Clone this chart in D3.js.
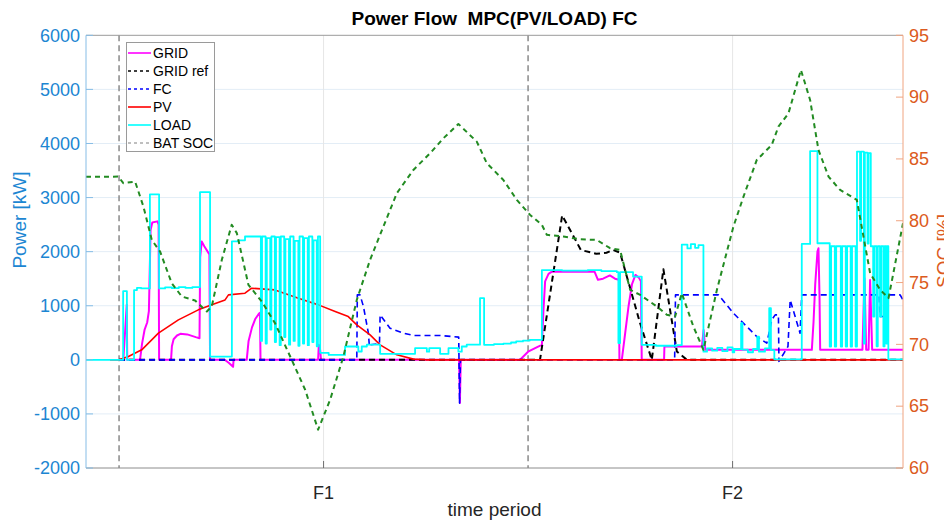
<!DOCTYPE html>
<html><head><meta charset="utf-8">
<script src="https://cdn.jsdelivr.net/npm/d3@7"></script>
<style>
body{margin:0;background:#fff}
svg{display:block}
text{font-family:"Liberation Sans",Arial,Helvetica,sans-serif}
</style>
</head><body>
<svg id="chart" width="944" height="521"></svg>
<script>
// ---------------- data (time in hours, power in kW, SOC in %) ----------------
const powerTicks = [-2000,-1000,0,1000,2000,3000,4000,5000,6000];
const socTicks = [60,65,70,75,80,85,90,95];
const periodLabels = ["F1","F2"];
const periodTimes = [12,36];
const dayBounds = [0,24];
const seriesNames = ["GRID","GRID ref","FC","PV","LOAD","BAT SOC"];

const gridPower = [[0,0],[0.25,0],[0.35,500],[0.45,1020],[0.48,0],[1.23,0],[1.35,300],[1.5,560],[1.65,690],[1.75,900],[1.85,2400],[1.95,2540],[2.25,2560],[2.32,2500],[2.35,0],
 [3.05,0],[3.1,250],[3.2,380],[3.4,450],[3.6,480],[4.0,470],[4.5,420],[4.72,400],[4.76,1900],[4.85,2186],[5.0,2100],[5.3,1950],[5.34,0],
 [6.2,0],[6.45,-60],[6.69,-130],[6.72,0],[7.49,0],[7.6,350],[7.8,600],[8.0,760],[8.2,850],[8.27,870],[8.3,0],[11.68,0],[11.72,280],[11.8,180],[11.85,0],
 [19.95,0],[20.0,-800],[20.05,0],[23.53,0],[24.0,150],[24.5,230],[24.81,277],[24.9,900],[25.0,1450],[25.2,1590],[25.4,1630],[27.9,1630],[28.1,1480],[28.4,1500],[28.8,1560],[29.1,1500],[29.33,1480],[29.36,0],
 [29.5,0],[29.7,500],[29.9,1000],[30.1,1400],[30.3,1570],[30.5,1520],[30.62,1450],[30.67,0],[31.98,0],[32.0,246],[34.2,246],[34.3,550],[34.4,185],
 [40.65,185],[40.75,700],[40.85,1400],[40.98,2000],[41.04,2063],[41.1,1200],[41.14,185],[43.62,185],[43.74,1510],[43.84,185],[43.98,185],[44.07,1478],[44.19,185],[46,185]];

const gridRef = [[0,0],[24.7,0],[26.0,2670],[27.1,2030],[28.0,1960],[28.6,1980],[29.0,2030],[29.4,1980],[30.57,680],[31.26,0],[31.94,1676],[32.73,154],[33.32,0],[46,0]];

const fcPower = [[0,0],[13.95,0],[13.98,1200],[14.14,1200],[14.34,985],[14.63,493],[14.69,246],[14.75,277],[15.28,300],[15.32,831],[15.9,585],[16.68,493],[17.27,450],[18.84,450],[19.93,419],[19.98,-800],[20.03,0],
 [32.6,0],[32.65,1200],[35.17,1200],[36.05,862],[37.42,430],[38.01,308],[38.3,739],[38.5,831],[38.69,831],[38.72,-30],[39.25,246],[39.38,1108],[39.96,493],[40.06,1200],[44.6,1200],[44.65,800],[44.9,800],[44.95,1200],[45.83,1200],[46.0,1108]];

const pvPower = [[-0.53,0],[0.0,0],[0.55,61],[1.33,185],[2.31,493],[3.48,739],[4.65,924],[5.44,1016],[6.22,1108],[6.42,1200],[7.39,1232],[7.78,1324],[9.15,1293],[10.52,1140],[11.7,1016],[12.68,893],[13.45,800],[13.95,647],[14.73,462],[15.32,277],[16.3,92],[17.27,13],[18.0,0],[46,0]];

// step-after samples
const loadPower = [[-1.94,0],[0.24,1270],[0.46,0],[0.88,1290],[1.05,1330],[1.3,1320],[1.81,3060],[2.35,1320],[2.7,1340],[3.1,1325],[3.5,1345],[3.9,1330],[4.3,1345],[4.75,3100],[5.34,60],[6.62,2190],[7.0,2210],[7.39,2280],
 [8.32,350],[8.39,2280],[8.6,300],[8.67,2250],[8.87,560],[8.94,2280],[9.14,330],[9.21,2270],[9.42,270],[9.49,2280],[9.69,420],[9.76,2230],[9.97,280],[10.04,2280],[10.24,350],[10.31,2200],[10.52,260],[10.59,2280],[10.79,300],[10.86,2250],[11.07,270],[11.14,2280],[11.34,330],[11.41,2210],[11.6,250],[11.67,2280],[11.80,130],
 [12.3,90],[13.26,246],[14.04,154],[14.24,246],[14.54,280],[15.32,111],[17.37,216],[18.06,150],[18.2,216],[18.84,111],[19.33,216],[19.91,150],[20.11,246],[20.4,280],[21.18,1140],[21.42,277],[22.0,290],[22.55,300],[23.0,320],[23.3,340],[23.7,355],[24.1,370],
 [24.81,1660],[26.0,1650],[27.5,1660],[28.3,1640],[29.21,1620],[29.3,310],[29.4,1620],[30.16,1540],[30.67,277],[31.5,260],[32.73,270],[33.02,2130],[33.35,2060],[33.55,2140],[33.8,2070],[34.0,2120],
 [34.29,150],[34.5,210],[34.8,170],[35.1,220],[35.4,160],[35.7,230],[36.0,140],[36.1,200],[36.5,680],[36.58,190],[36.9,140],[37.2,200],[37.45,430],[37.55,150],[37.9,210],[38.15,955],[38.25,180],[38.45,10],
 [40.06,2143],[40.55,3860],[40.98,2155],[41.70,246],[41.78,2100],[42.0,246],[42.08,2100],[42.35,246],[42.43,2100],[42.64,246],[42.72,2100],[42.93,246],[43.01,2100],[43.22,246],[43.3,3850],
 [43.48,2200],[43.54,3850],[43.7,300],[43.76,3830],[43.92,2150],[43.98,3820],[44.11,2100],[44.25,800],[44.32,2100],[44.45,250],[44.52,2100],[44.65,800],[44.72,2100],[44.85,250],[44.92,2100],[45.02,300],[45.07,2100],[45.14,10],[46,10]];

const batSoc = [[-1.94,83.55],[-0.04,83.57],[0.25,83.04],[0.94,83.17],[1.43,81.15],[1.92,78.45],[2.41,77.5],[3.09,74.95],[3.68,73.87],[4.46,73.55],[5.15,72.66],[5.44,73.06],[6.03,76.84],[6.61,79.67],[6.91,79.0],[7.59,74.82],[8.37,73.47],[9.15,71.72],[10.13,68.75],[10.92,66.33],[11.68,63.1],[12.38,65.5],[13.16,69.0],[13.95,73.6],[14.73,76.84],[15.51,79.53],[16.3,82.23],[17.27,84.11],[18.25,85.46],[19.03,86.67],[19.91,87.83],[20.99,86.4],[21.58,84.65],[22.55,83.3],[23.34,81.69],[24.12,80.47],[24.81,79.67],[25.1,78.86],[26.07,78.72],[27.05,78.5],[28.03,78.45],[28.81,77.78],[29.4,77.64],[29.99,74.41],[30.58,74.0],[31.56,73.06],[32.14,72.4],[32.63,72.25],[33.02,74.14],[33.7,71.44],[34.29,69.56],[35.08,74.41],[36.05,79.53],[36.64,81.95],[37.42,84.92],[38.3,86.13],[38.69,87.61],[39.28,88.69],[40.01,92.2],[40.55,89.77],[41.04,85.73],[41.63,83.57],[42.31,82.49],[43.29,81.69],[44.07,75.76],[44.66,74.41],[45.15,73.74],[46.0,79.8]];

// ---------------- drawing ----------------
const leftColor = "#1c86d2", rightColor = "#dc5a20";
const M = {l:86, r:903, t:35.3, b:468};
const svg = d3.select("#chart");
const x = d3.scaleLinear().domain([-1.94,46]).range([M.l,M.r]);
const yL = d3.scaleLinear().domain([-2000,6000]).range([M.b,M.t]);
const yR = d3.scaleLinear().domain([60,95]).range([M.b,M.t]);

svg.append("defs").append("clipPath").attr("id","clip")
  .append("rect").attr("x",M.l).attr("y",M.t).attr("width",M.r-M.l).attr("height",M.b-M.t);

// grid
svg.append("g").selectAll("line").data(powerTicks.slice(1,-1)).join("line")
  .attr("x1",M.l).attr("x2",M.r).attr("y1",d=>yL(d)).attr("y2",d=>yL(d))
  .attr("stroke","#e3edf6").attr("stroke-width",1);
svg.append("g").selectAll("line").data(periodTimes).join("line")
  .attr("x1",d=>x(d)).attr("x2",d=>x(d)).attr("y1",M.t).attr("y2",M.b)
  .attr("stroke","#e6e6e6").attr("stroke-width",1);

// day boundaries
svg.append("g").selectAll("line").data(dayBounds).join("line")
  .attr("x1",d=>x(d)).attr("x2",d=>x(d)).attr("y1",M.t).attr("y2",M.b)
  .attr("stroke","#8a8a8a").attr("stroke-width",1.5).attr("stroke-dasharray","6,4");

const plot = svg.append("g").attr("clip-path","url(#clip)");
const lineL = d3.line().x(d=>x(d[0])).y(d=>yL(d[1]));
const stepL = d3.line().x(d=>x(d[0])).y(d=>yL(d[1])).curve(d3.curveStepAfter);
const lineR = d3.line().x(d=>x(d[0])).y(d=>yR(d[1]));

function draw(data, gen, color, w, dash){
  const p = plot.append("path").datum(data).attr("d",gen).attr("fill","none")
    .attr("stroke",color).attr("stroke-width",w).attr("stroke-linejoin","round");
  if(dash) p.attr("stroke-dasharray",dash);
}
draw(gridPower, lineL, "#ff00ff", 2);
draw(gridRef, lineL, "#000000", 2, "6,4");
draw(fcPower, lineL, "#0000ff", 1.6, "6,4");
draw(pvPower, lineL, "#ff0000", 1.6);
draw(loadPower, stepL, "#00ffff", 1.8);
draw(batSoc, lineR, "#228b22", 2, "5,4");

// axes frame
svg.append("line").attr("x1",M.l).attr("x2",M.r).attr("y1",M.t).attr("y2",M.t).attr("stroke","#9a9a9a");
svg.append("line").attr("x1",M.l).attr("x2",M.r).attr("y1",M.b).attr("y2",M.b).attr("stroke","#8c8c8c");
svg.append("line").attr("x1",M.l).attr("x2",M.l).attr("y1",M.t).attr("y2",M.b).attr("stroke","#86bde6");
svg.append("line").attr("x1",M.r).attr("x2",M.r).attr("y1",M.t).attr("y2",M.b).attr("stroke","#f0a480");

// left ticks + labels
const gl = svg.append("g");
gl.selectAll("line").data(powerTicks).join("line")
  .attr("x1",M.l).attr("x2",M.l+7).attr("y1",d=>yL(d)).attr("y2",d=>yL(d)).attr("stroke","#86bde6");
gl.selectAll("text").data(powerTicks).join("text")
  .attr("x",M.l-6).attr("y",d=>yL(d)).attr("dy","0.35em").attr("text-anchor","end")
  .attr("font-size",18).attr("fill",leftColor).text(d=>d);
// right ticks + labels
const gr = svg.append("g");
gr.selectAll("line").data(socTicks).join("line")
  .attr("x1",M.r-7).attr("x2",M.r).attr("y1",d=>yR(d)).attr("y2",d=>yR(d)).attr("stroke","#f0a480");
gr.selectAll("text").data(socTicks).join("text")
  .attr("x",M.r+6).attr("y",d=>yR(d)).attr("dy","0.35em").attr("text-anchor","start")
  .attr("font-size",18).attr("fill",rightColor).text(d=>d);
// x ticks
const gx = svg.append("g");
gx.selectAll("line").data(periodTimes).join("line")
  .attr("x1",d=>x(d)).attr("x2",d=>x(d)).attr("y1",M.b).attr("y2",M.b-7).attr("stroke","#6e6e6e");
gx.selectAll("text").data(periodLabels).join("text")
  .attr("x",(d,i)=>x(periodTimes[i])).attr("y",M.b+31).attr("text-anchor","middle")
  .attr("font-size",18).attr("fill","#262626").text(d=>d);

// titles
svg.append("text").attr("x",(M.l+M.r)/2).attr("y",25).attr("text-anchor","middle")
  .attr("font-size",19).attr("font-weight","bold").attr("fill","#000").style("white-space","pre")
  .text("Power Flow  MPC(PV/LOAD) FC");
svg.append("text").attr("x",(M.l+M.r)/2).attr("y",516).attr("text-anchor","middle")
  .attr("font-size",19).attr("fill","#262626").text("time period");
svg.append("text").attr("transform","translate(26,220) rotate(-90)").attr("text-anchor","middle")
  .attr("font-size",19).attr("fill",leftColor).text("Power [kW]");
svg.append("text").attr("transform","translate(950,251) rotate(-90)").attr("text-anchor","middle")
  .attr("font-size",19).attr("fill",rightColor).text("SOC [%]");

// legend
const lg = svg.append("g");
lg.append("rect").attr("x",126.5).attr("y",42.5).attr("width",88).attr("height",109)
  .attr("fill","#fff").attr("stroke","#9a9a9a");
const legStyles = [["#ff00ff",null],["#000000","3,3"],["#0000ff","3,3"],["#ff0000",null],["#00ffff",null],["#808080","3,3"]];
const legRow = lg.selectAll("g").data(seriesNames).join("g")
  .attr("transform",(d,i)=>`translate(0,${53+i*18})`);
legRow.append("line").attr("x1",128).attr("x2",151).attr("y1",0).attr("y2",0)
  .attr("stroke",(d,i)=>legStyles[i][0]).attr("stroke-width",(d,i)=>i===5?1.2:1.6)
  .attr("stroke-dasharray",(d,i)=>legStyles[i][1]);
legRow.append("text").attr("x",153).attr("y",0).attr("dy","0.35em").attr("font-size",14)
  .attr("fill","#000").text(d=>d);
</script>
</body></html>
